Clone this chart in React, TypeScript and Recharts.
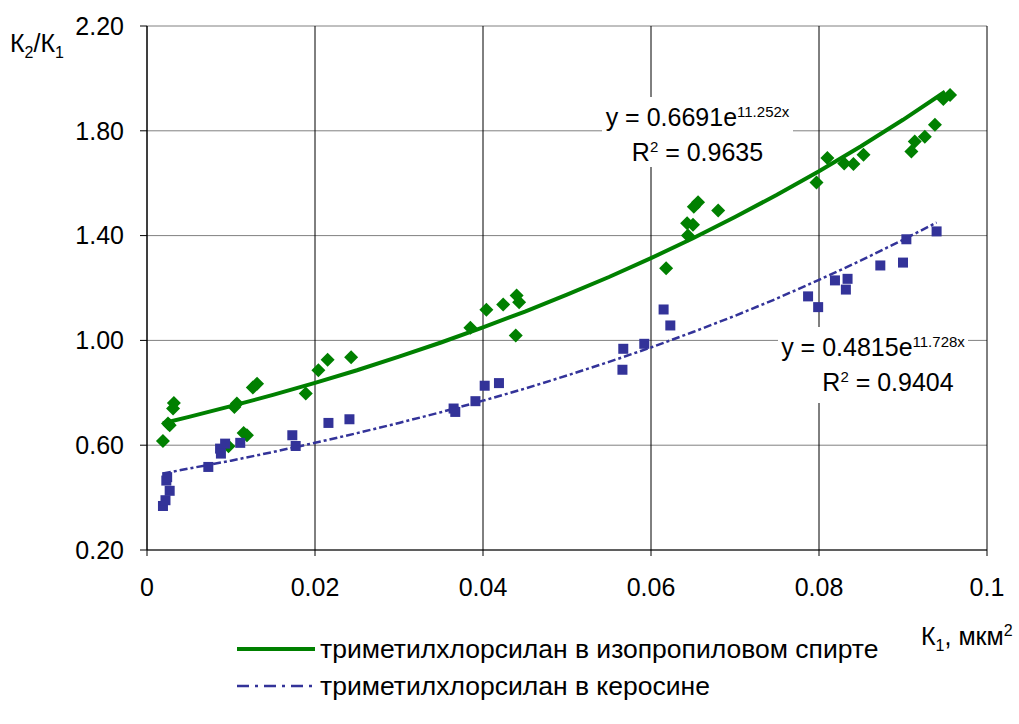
import React from "react";
import {
  CartesianGrid,
  Scatter,
  ScatterChart,
  XAxis,
  YAxis,
} from "recharts";

const FONT = "'Liberation Sans', Arial, sans-serif";
const GREEN = "#008000";
const BLUE = "#333399";

// x axis: K1, мкм2 ; y axis: K2/K1
const xTicks = [0, 0.02, 0.04, 0.06, 0.08, 0.1];
const yTicks = [0.2, 0.6, 1.0, 1.4, 1.8, 2.2];

// триметилхлорсилан в изопропиловом спирте (diamonds)
const alcoholX = [
  0.0019, 0.0025, 0.0027, 0.0031, 0.0032, 0.0097, 0.0104, 0.0107, 0.0115, 0.0119,
  0.0126, 0.0131, 0.0189, 0.0204, 0.0215, 0.0243, 0.0385, 0.0404, 0.0424, 0.044,
  0.0443, 0.0439, 0.0618, 0.0644, 0.0643, 0.065, 0.0651, 0.0656, 0.068, 0.0797,
  0.081, 0.083, 0.0841, 0.0853, 0.091, 0.0914, 0.0926, 0.0938, 0.0948, 0.0956,
];
const alcoholY = [
  0.616, 0.683, 0.676, 0.74, 0.761, 0.596, 0.746, 0.759, 0.647, 0.638,
  0.82, 0.835, 0.797, 0.886, 0.926, 0.936, 1.048, 1.117, 1.137, 1.171,
  1.146, 1.019, 1.275, 1.4, 1.447, 1.441, 1.51, 1.527, 1.496, 1.603,
  1.696, 1.675, 1.673, 1.709, 1.721, 1.759, 1.777, 1.823, 1.921, 1.937,
];

// триметилхлорсилан в керосине (squares)
const keroseneX = [
  0.0019, 0.0022, 0.0027, 0.0023, 0.0024, 0.0073, 0.0087, 0.0088, 0.0093, 0.0111,
  0.0173, 0.0177, 0.0216, 0.0241, 0.0365, 0.0367, 0.0391, 0.0402, 0.0419, 0.0566,
  0.0567, 0.0592, 0.0615, 0.0623, 0.0787, 0.0799, 0.0819, 0.0834, 0.0832, 0.0873,
  0.09, 0.0904, 0.094,
];
const keroseneY = [
  0.368, 0.39, 0.426, 0.465, 0.478, 0.517, 0.587, 0.568, 0.606, 0.609,
  0.638, 0.597, 0.685, 0.699, 0.74, 0.727, 0.768, 0.827, 0.837, 0.888,
  0.968, 0.987, 1.118, 1.057, 1.168, 1.127, 1.229, 1.235, 1.194, 1.286,
  1.297, 1.386, 1.416,
];

// trend lines
const alcoholTrendX = [
  0.0019, 0.005, 0.01, 0.015, 0.02, 0.025, 0.03, 0.035, 0.04, 0.045, 0.05,
  0.055, 0.06, 0.065, 0.07, 0.075, 0.08, 0.085, 0.09, 0.095,
];
const alcoholTrendY = [
  0.684, 0.708, 0.749, 0.792, 0.838, 0.886, 0.938, 0.992, 1.05, 1.11, 1.175,
  1.242, 1.314, 1.39, 1.471, 1.556, 1.646, 1.741, 1.842, 1.949,
];
const keroseneTrendX = [
  0.0019, 0.005, 0.01, 0.015, 0.02, 0.025, 0.03, 0.035, 0.04, 0.045, 0.05,
  0.055, 0.06, 0.065, 0.07, 0.075, 0.08, 0.085, 0.09, 0.094,
];
const keroseneTrendY = [
  0.492, 0.511, 0.541, 0.574, 0.609, 0.646, 0.685, 0.726, 0.77, 0.816, 0.866,
  0.918, 0.973, 1.032, 1.094, 1.16, 1.231, 1.305, 1.384, 1.45,
];

const zip = (xs: number[], ys: number[]) => xs.map((x, i) => ({ x, y: ys[i] }));

function Diamond(props: { cx?: number; cy?: number }) {
  const { cx, cy } = props;
  if (cx === undefined || cy === undefined) return null;
  const r = 7;
  return (
    <path
      d={`M${cx},${cy - r}L${cx + r},${cy}L${cx},${cy + r}L${cx - r},${cy}Z`}
      fill={GREEN}
    />
  );
}

function Square(props: { cx?: number; cy?: number }) {
  const { cx, cy } = props;
  if (cx === undefined || cy === undefined) return null;
  return <rect x={cx - 5} y={cy - 5} width={10} height={10} fill={BLUE} />;
}

const NoDot = () => <g />;

const tickStyle = { fontSize: 25, fill: "#000", fontFamily: FONT };

export default function App() {
  return (
    <div
      style={{
        position: "absolute",
        left: 0,
        top: 0,
        width: 1019,
        height: 724,
        background: "#fff",
        fontFamily: FONT,
        color: "#000",
        overflow: "hidden",
      }}
    >
      <ScatterChart
        width={1019}
        height={724}
        margin={{ top: 26, right: 32, left: 0, bottom: 0 }}
      >
        <CartesianGrid vertical={false} stroke="#808080" strokeWidth={1} />
        <CartesianGrid horizontal={false} stroke="#000" strokeWidth={1} />
        <XAxis
          type="number"
          dataKey="x"
          domain={[0, 0.1]}
          ticks={xTicks}
          tickFormatter={(v) => String(v)}
          height={174}
          tick={tickStyle}
          tickSize={6}
          tickMargin={22}
          stroke="#000"
          allowDataOverflow
        />
        <YAxis
          type="number"
          dataKey="y"
          domain={[0.2, 2.2]}
          ticks={yTicks}
          tickFormatter={(v) => v.toFixed(2)}
          width={147}
          tick={tickStyle}
          tickSize={7}
          tickMargin={16}
          stroke="#000"
          allowDataOverflow
        />
        <Scatter
          data={zip(alcoholX, alcoholY)}
          shape={<Diamond />}
          isAnimationActive={false}
        />
        <Scatter
          data={zip(keroseneX, keroseneY)}
          shape={<Square />}
          isAnimationActive={false}
        />
        <Scatter
          data={zip(alcoholTrendX, alcoholTrendY)}
          line={{ stroke: GREEN, strokeWidth: 4 }}
          lineType="joint"
          shape={<NoDot />}
          isAnimationActive={false}
        />
        <Scatter
          data={zip(keroseneTrendX, keroseneTrendY)}
          line={{ stroke: BLUE, strokeWidth: 2.5, strokeDasharray: "8 3 3 3" }}
          lineType="joint"
          shape={<NoDot />}
          isAnimationActive={false}
        />
      </ScatterChart>

      {/* axis titles */}
      <div style={{ position: "absolute", left: 10, top: 29, fontSize: 25, lineHeight: "28px", whiteSpace: "nowrap" }}>
        К<sub style={{ fontSize: 16 }}>2</sub>/К<sub style={{ fontSize: 16 }}>1</sub>
      </div>
      <div style={{ position: "absolute", left: 921, top: 617, fontSize: 25, lineHeight: "28px", whiteSpace: "nowrap" }}>
        К<sub style={{ fontSize: 16 }}>1</sub>, мкм<sup style={{ fontSize: 16 }}>2</sup>
      </div>

      {/* trend equations */}
      <div
        style={{
          position: "absolute",
          left: 602,
          top: 97,
          width: 191,
          height: 70,
          background: "#fff",
          fontSize: 25,
          lineHeight: "30px",
          textAlign: "center",
          whiteSpace: "nowrap",
        }}
      >
        <div>
          y = 0.6691e<sup style={{ fontSize: 15 }}>11.252x</sup>
        </div>
        <div>
          R<sup style={{ fontSize: 15 }}>2</sup> = 0.9635
        </div>
      </div>
      <div
        style={{
          position: "absolute",
          left: 778,
          top: 327,
          width: 190,
          height: 76,
          background: "#fff",
          fontSize: 25,
          lineHeight: "30px",
          textAlign: "center",
          whiteSpace: "nowrap",
        }}
      >
        <div>
          y = 0.4815e<sup style={{ fontSize: 15 }}>11.728x</sup>
        </div>
        <div style={{ paddingLeft: 30 }}>
          R<sup style={{ fontSize: 15 }}>2</sup> = 0.9404
        </div>
      </div>

      {/* legend */}
      <div style={{ position: "absolute", left: 237, top: 632, fontSize: 26.5, lineHeight: "34px", whiteSpace: "nowrap" }}>
        <div style={{ display: "flex", alignItems: "center" }}>
          <svg width={80} height={10} style={{ marginRight: 3 }}>
            <line x1={0} y1={5} x2={78} y2={5} stroke={GREEN} strokeWidth={4} />
          </svg>
          <span>триметилхлорсилан в изопропиловом спирте</span>
        </div>
        <div style={{ display: "flex", alignItems: "center", marginTop: 3 }}>
          <svg width={80} height={10} style={{ marginRight: 3 }}>
            <line x1={0} y1={5} x2={78} y2={5} stroke={BLUE} strokeWidth={2.5} strokeDasharray="12 6 3 6" />
          </svg>
          <span>триметилхлорсилан в керосине</span>
        </div>
      </div>
    </div>
  );
}
